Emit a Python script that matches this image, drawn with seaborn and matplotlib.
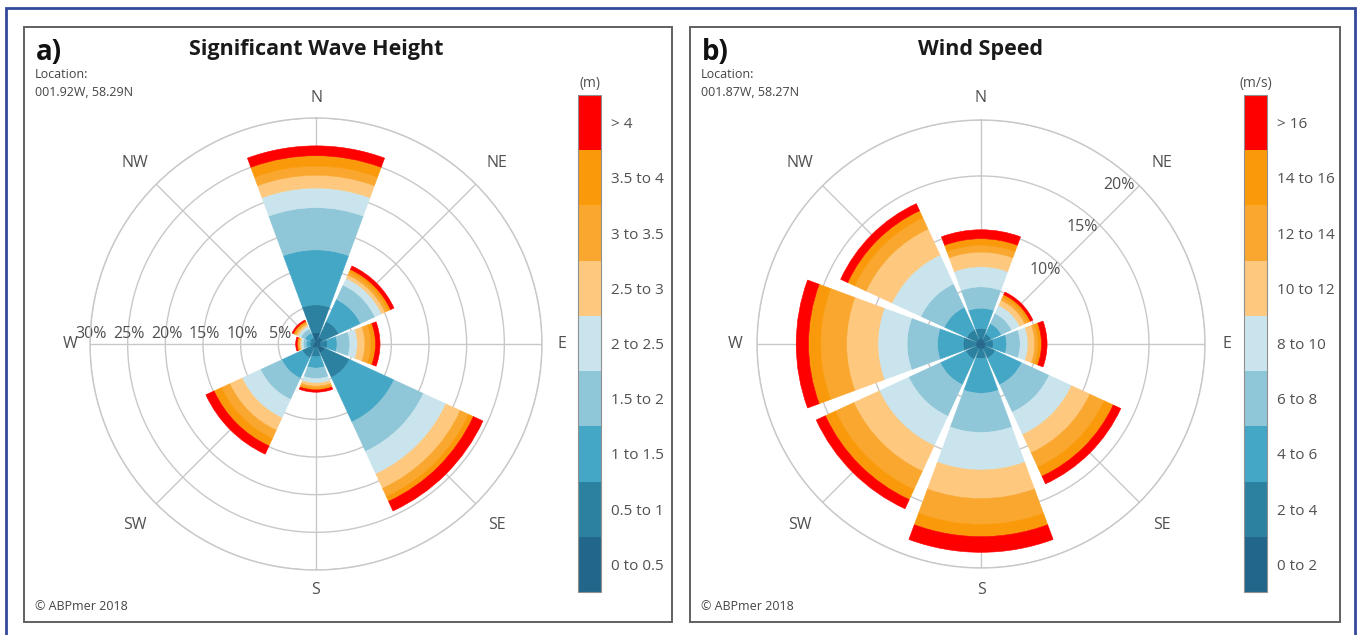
import numpy as np
import matplotlib
matplotlib.use("Agg")
import matplotlib.pyplot as plt
import matplotlib.colors as mcolors
import matplotlib.patches as mpatches
import seaborn as sns

directions = ["N", "NE", "E", "SE", "S", "SW", "W", "NW"]
bearings = [0, 45, 90, 135, 180, 225, 270, 315]

wave_bins = ["0 to 0.5", "0.5 to 1", "1 to 1.5", "1.5 to 2", "2 to 2.5",
             "2.5 to 3", "3 to 3.5", "3.5 to 4", "> 4"]
wind_bins = ["0 to 2", "2 to 4", "4 to 6", "6 to 8", "8 to 10",
             "10 to 12", "12 to 14", "14 to 16", "> 16"]

# % occurrence per bin, one row per direction (N, NE, E, SE, S, SW, W, NW)
wave_pct = [
    [1.5, 3.7, 7.3, 5.6, 2.6, 1.7, 1.2, 1.4, 1.3],
    [1.0, 2.3, 3.2, 2.1, 1.0, 0.5, 0.4, 0.4, 0.5],
    [0.6, 0.9, 1.3, 1.7, 1.0, 1.0, 0.8, 0.6, 0.6],
    [1.3, 3.6, 6.5, 4.3, 3.3, 2.1, 1.2, 0.7, 1.4],
    [0.5, 1.2, 1.5, 1.4, 0.6, 0.4, 0.3, 0.2, 0.3],
    [0.6, 1.4, 3.0, 3.1, 2.7, 1.8, 1.2, 1.1, 1.2],
    [0.3, 0.5, 0.5, 0.4, 0.3, 0.2, 0.15, 0.15, 0.2],
    [0.3, 0.6, 0.7, 0.6, 0.4, 0.3, 0.2, 0.2, 0.2],
]
wind_pct = [
    [0.45, 0.95, 1.8, 1.9, 1.8, 1.3, 0.6, 0.6, 0.8],
    [0.4, 0.6, 1.0, 1.0, 0.8, 0.5, 0.3, 0.25, 0.25],
    [0.4, 0.7, 1.2, 1.2, 0.7, 0.6, 0.3, 0.3, 0.5],
    [0.45, 0.95, 2.6, 2.7, 2.2, 1.8, 1.4, 0.9, 0.75],
    [0.45, 0.85, 3.1, 3.5, 3.35, 2.55, 2.3, 1.1, 1.4],
    [0.45, 1.05, 2.5, 3.1, 2.9, 2.5, 1.8, 1.0, 0.9],
    [0.45, 1.15, 2.3, 2.7, 2.6, 2.8, 2.3, 1.1, 1.1],
    [0.45, 0.95, 2.2, 2.3, 2.85, 2.55, 1.1, 0.7, 0.7],
]

wave_rings = [5, 10, 15, 20, 25, 30]
wind_rings = [5, 10, 15, 20]

sns.set_theme(style="white")
plt.rcParams["font.family"] = ["Open Sans", "DejaVu Sans"]

pal = sns.color_palette(["#23668b", "#2d81a0", "#45a7c6", "#8fc6d8", "#c9e4ec",
                         "#fec97e", "#f9a72f", "#fa9a0a", "#ff0000"])
grid_col = "#c8c8c8"
txt_col = "#505050"

fig = plt.figure(figsize=(13.6, 6.35), dpi=100)


def px(x, y, w, h):
    # pixel box (from top-left) -> figure fraction
    return [x / 1360, 1 - (y + h) / 635, w / 1360, h / 635]


def rose(box, pct, rings, rmax, ring_angle, ring_shift, ring_labels):
    ax = fig.add_axes(px(*box), projection="polar")
    ax.set_theta_zero_location("N")
    ax.set_theta_direction(-1)
    pct = np.array(pct)
    theta = np.deg2rad(bearings)
    bottom = np.zeros(len(bearings))
    for k in range(pct.shape[1]):
        ax.bar(theta, pct[:, k], width=np.deg2rad(40.5), bottom=bottom,
               color=pal[k], edgecolor=pal[k], linewidth=0.4, zorder=2)
        bottom += pct[:, k]
    ax.set_ylim(0, rmax)
    ax.set_yticks(rings)
    ax.set_yticklabels([])
    ax.set_xticks(theta)
    ax.set_xticklabels([])
    ax.grid(True, color=grid_col, linewidth=1)
    ax.spines["polar"].set_color(grid_col)
    ax.spines["polar"].set_linewidth(1)
    ax.set_axisbelow(True)
    # compass labels: cardinal ones a little closer than the diagonal ones
    rad_px = box[2] / 2
    for t, lab, b in zip(theta, directions, bearings):
        dist = 246 if b % 90 == 0 else 256
        ax.text(t, rmax * dist / rad_px, lab, ha="center", va="center",
                fontsize=11.5, color=txt_col, clip_on=False)
    for r, lab in zip(rings, ring_labels):
        if ring_shift == 0:
            ax.annotate(lab, (np.deg2rad(ring_angle), r), xytext=(1, 1.5),
                        textcoords="offset points", ha="center", va="bottom",
                        fontsize=11.5, color=txt_col, zorder=1)
        else:
            ax.text(np.deg2rad(ring_angle), r - ring_shift, lab, ha="center",
                    va="center", fontsize=11.5, color=txt_col, zorder=1)
    return ax


def colorbar(box, bins, unit):
    cax = fig.add_axes(px(*box))
    cmap = mcolors.ListedColormap(pal)
    norm = mcolors.BoundaryNorm(np.arange(len(bins) + 1), len(bins))
    cb = fig.colorbar(plt.cm.ScalarMappable(norm=norm, cmap=cmap), cax=cax,
                      ticks=np.arange(len(bins)) + 0.5)
    cb.set_ticklabels(bins)
    cb.minorticks_off()
    cb.outline.set_edgecolor("#909090")
    cb.outline.set_linewidth(0.8)
    cax.tick_params(which="both", length=0, labelsize=11, pad=7, labelcolor=txt_col)
    cax.set_title(unit, fontsize=10, color=txt_col, pad=6)


# panel frames and outer blue border
fig.patches.append(mpatches.Rectangle((6 / 1360, -0.02), 1349 / 1360, 1.02 - 8 / 635,
                                      transform=fig.transFigure, fill=False,
                                      edgecolor="#34499a", linewidth=2))
for x0, x1 in [(24, 672), (690, 1340)]:
    fig.patches.append(mpatches.Rectangle((x0 / 1360, 1 - 622 / 635),
                                          (x1 - x0) / 1360, 595 / 635,
                                          transform=fig.transFigure, fill=False,
                                          edgecolor="#606060", linewidth=1.4))

rose((90, 118, 452, 452), wave_pct, wave_rings, 30, 270, 0,
     [f"{r}%" for r in wave_rings])
rose((757, 120, 448, 448), wind_pct, wind_rings, 20, 41, 1.2,
     ["", "10%", "15%", "20%"])

colorbar((578, 95, 23, 497), wave_bins, "(m)")
colorbar((1244, 95, 23, 497), wind_bins, "(m/s)")

for x0, cx, letter, title, loc in [(24, 316, "a)", "Significant Wave Height", "001.92W, 58.29N"),
                                   (690, 981, "b)", "Wind Speed", "001.87W, 58.27N")]:
    fig.text(cx / 1360, 1 - 50 / 635, title, ha="center", va="center",
             fontsize=15.5, fontweight="bold", color="#1a1a1a")
    fig.text((x0 + 12) / 1360, 1 - 53 / 635, letter, ha="left", va="center",
             fontsize=20, fontweight="bold", color="#111111")
    fig.text((x0 + 11) / 1360, 1 - 74 / 635, "Location:", ha="left", va="center",
             fontsize=9, color="#444444")
    fig.text((x0 + 11) / 1360, 1 - 93 / 635, loc, ha="left", va="center",
             fontsize=9, color="#444444")
    fig.text((x0 + 11) / 1360, 1 - 607 / 635, "\u00a9 ABPmer 2018", ha="left",
             va="center", fontsize=9, color="#444444")

fig.savefig("out.png", dpi=100)
